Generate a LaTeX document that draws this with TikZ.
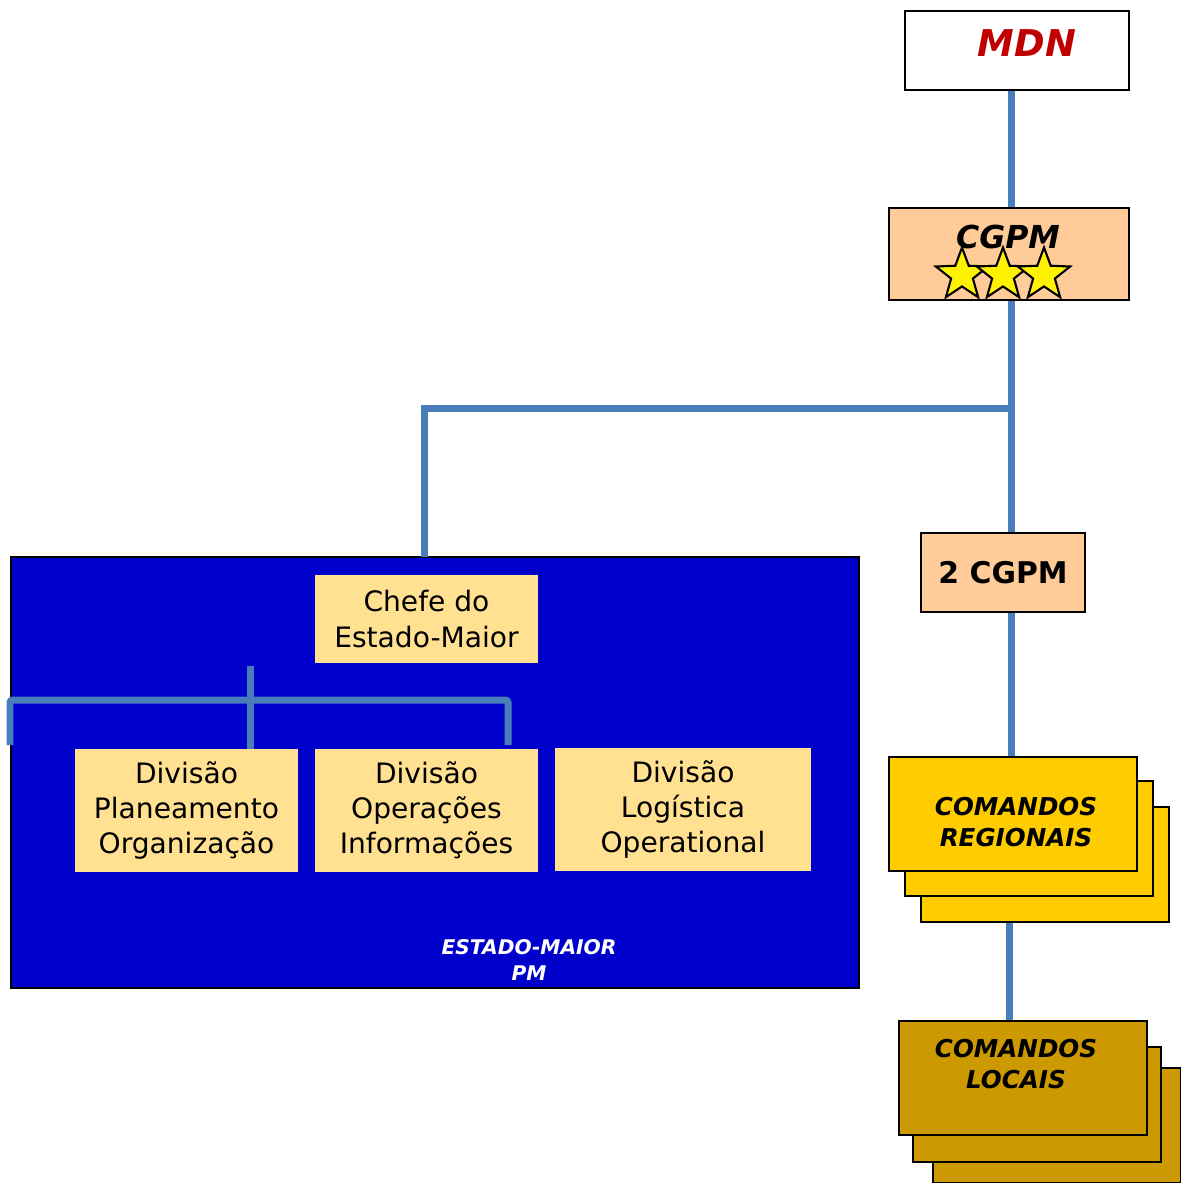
\documentclass[tikz,border=0pt]{standalone}
\usepackage{fontspec}
\setmainfont{DejaVu Sans}
\usepackage{tikz}
\usetikzlibrary{shapes.geometric}
\definecolor{linkblue}{RGB}{74,126,187}
\definecolor{peach}{RGB}{255,204,153}
\definecolor{paleyellow}{RGB}{255,225,145}
\definecolor{emblue}{RGB}{0,0,204}
\definecolor{gold}{RGB}{255,204,0}
\definecolor{ochre}{RGB}{204,153,0}
\definecolor{mdnred}{RGB}{192,0,0}
\tikzset{
  >=latex,
}
\tikzstyle{link}=[line width=0.14cm,linkblue]
\tikzstyle{unit}=[draw=black,line width=0.9pt,inner sep=0pt]
\tikzstyle{division}=[fill=paleyellow,inner sep=0pt,align=center,
  font=\fontsize{16}{20}\selectfont]
\tikzstyle{command}=[font=\fontsize{14}{17.6}\selectfont\bfseries\itshape,align=center]
\tikzstyle{rank}=[star,star points=5,star point ratio=2.4,minimum size=1.1cm,
  inner sep=0pt,fill=yellow,draw=black,line width=1.2pt]

\begin{document}
\begin{tikzpicture}[x=0.02cm,y=-0.02cm]
    \useasboundingbox (0,0) rectangle (1180,1183);
    \coordinate (trunk) at (1011,0);
    \node[unit,fill=white,minimum width=4.48cm,minimum height=1.58cm] (mdn) at (1017,50.5) {};
    \node[anchor=base,text=mdnred,font=\fontsize{21}{26}\selectfont\bfseries\itshape] (mdnlbl) at (1027,56) {MDN};
    \node[unit,fill=peach,minimum width=4.8cm,minimum height=1.84cm] (cgpm) at (1009,254) {};
    \node[anchor=base,font=\fontsize{18}{22}\selectfont\bfseries\itshape] (cgpmlbl) at (1008,248) {CGPM};
    \foreach \i/\x in {1/962,2/1003,3/1044}
      \node[rank] (star\i) at (\x,275) {};
    \node[unit,fill=peach,minimum width=3.28cm,minimum height=1.58cm,
      font=\fontsize{17}{20}\selectfont\bfseries] (twocgpm) at (1003,572.5) {2 CGPM};
    \node[unit,fill=emblue,minimum width=16.96cm,minimum height=8.62cm] (em) at (435,772.5) {};
    \node[division,minimum width=4.46cm,minimum height=1.76cm] (chefe) at (426.5,619) {Chefe do\\Estado-Maior};
    \node[division,minimum width=4.46cm,minimum height=2.46cm] (div1) at (186.5,810.5) {Divisão\\Planeamento\\Organização};
    \node[division,minimum width=4.46cm,minimum height=2.46cm] (div2) at (426.5,810.5) {Divisão\\Operações\\Informações};
    \node[division,minimum width=5.12cm,minimum height=2.46cm] (div3) at (683,809.5) {Divisão\\Logística\\Operational};
    \node[text=white,align=center,font=\fontsize{11.5}{14.8}\selectfont\bfseries\itshape] (emlbl) at (529,960) {ESTADO-MAIOR\\PM};
    \node[unit,fill=gold,minimum width=4.96cm,minimum height=2.3cm] (reg3) at (1045,864.5) {};
    \node[unit,fill=gold,minimum width=4.96cm,minimum height=2.3cm] (reg2) at (1029,838.5) {};
    \node[unit,fill=gold,minimum width=4.96cm,minimum height=2.28cm] (reg1) at (1013,814) {};
    \node[command] (reglbl) at (1016,822) {COMANDOS\\REGIONAIS};
    \node[unit,fill=ochre,minimum width=4.96cm,minimum height=2.3cm] (loc3) at (1057,1125.5) {};
    \node[unit,fill=ochre,minimum width=4.96cm,minimum height=2.3cm] (loc2) at (1037,1104.5) {};
    \node[unit,fill=ochre,minimum width=4.96cm,minimum height=2.28cm] (loc1) at (1023,1078) {};
    \node[command] (loclbl) at (1016,1064) {COMANDOS\\LOCAIS};
    \coordinate (fork) at (1011,408);
    \coordinate (emin) at (424,557);
    \coordinate (stemtop) at (250,666);
    \coordinate (bar) at (250,700);
    \coordinate (legL) at (10,745);
    \coordinate (legR) at (508,745);
    \draw[link] (trunk |- mdn.south) -- (trunk |- cgpm.north);
    \draw[link] (trunk |- cgpm.south) -- (trunk |- twocgpm.north);
    \draw[link] (fork) -| (emin);
    \draw[link] (trunk |- twocgpm.south) -- (trunk |- reg1.north);
    \draw[link] (1009,0 |- reg3.south) -- (1009,0 |- loc1.north);
    \draw[link] (stemtop) -- (stemtop |- div1.north);
    \draw[link,rounded corners=1.5] (legL) |- (bar) -| (legR);
  \end{tikzpicture}
\end{document}
